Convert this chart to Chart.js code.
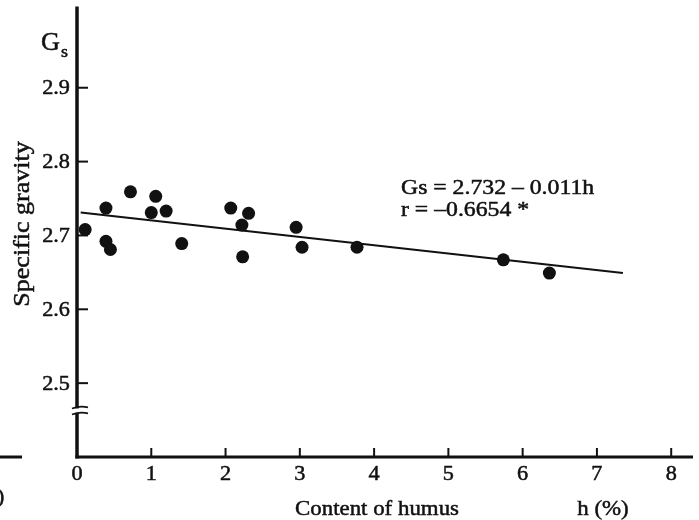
<!DOCTYPE html>
<html>
<head>
<meta charset="utf-8">
<script src="https://cdn.jsdelivr.net/npm/chart.js@4/dist/chart.umd.min.js"></script>
<style>
    html, body { margin: 0; padding: 0; background: #fff; }
    canvas { display: block; }
</style>
</head>
<body>
<canvas id="gravityChart" width="699" height="520"></canvas>
<script>
// Measured samples: humus content h (%) vs specific gravity Gs
const humus = [0.11, 0.39, 0.39, 0.45, 0.72, 1.00, 1.06, 1.20, 1.41, 2.07, 2.22, 2.23, 2.31, 2.95, 3.03, 3.77, 5.74, 6.36];
const gravity = [2.708, 2.737, 2.692, 2.681, 2.759, 2.731, 2.753, 2.733, 2.689, 2.737, 2.714, 2.671, 2.730, 2.711, 2.684, 2.684, 2.667, 2.649];

// Regression line end points
const fitX = [0.05, 7.35];
const fitY = [2.731, 2.649];

// Tick labels
const xTicks = [0, 1, 2, 3, 4, 5, 6, 7, 8];
const yTicks = [2.5, 2.6, 2.7, 2.8, 2.9];

const INK = '#111';
const SERIF = '"Liberation Serif", "Times New Roman", serif';

// Print-like text: slightly heavier, optionally stretched sideways
function inkText(ctx, text, x, y, sx) {
    ctx.save();
    ctx.translate(x, y);
    ctx.scale(sx || 1, 1);
    ctx.lineWidth = 0.5;
    ctx.fillText(text, 0, 0);
    ctx.strokeText(text, 0, 0);
    ctx.restore();
}

// Draw the axes, ticks and captions in the old print style
const paperAxes = {
    id: 'paperAxes',
    afterDatasetsDraw(chart) {
        const ctx = chart.ctx;
        const area = chart.chartArea;
        const xs = chart.scales.x;
        const ys = chart.scales.y;
        ctx.save();
        ctx.strokeStyle = INK;
        ctx.fillStyle = INK;
        ctx.lineCap = 'butt';

        // y axis
        ctx.lineWidth = 3.5;
        ctx.beginPath();
        ctx.moveTo(area.left, area.bottom + 1.5);
        ctx.lineTo(area.left, area.top);
        ctx.stroke();

        // x axis
        ctx.lineWidth = 3;
        ctx.beginPath();
        ctx.moveTo(area.left - 1.5, area.bottom);
        ctx.lineTo(area.right + 1, area.bottom);
        ctx.stroke();

        // stub of the neighbouring figure on the left
        ctx.beginPath();
        ctx.moveTo(0, area.bottom);
        ctx.lineTo(22, area.bottom);
        ctx.stroke();

        // y ticks and labels
        ctx.font = '21px ' + SERIF;
        ctx.textAlign = 'right';
        ctx.textBaseline = 'middle';
        yTicks.forEach(v => {
            const py = ys.getPixelForValue(v);
            ctx.lineWidth = 2;
            ctx.beginPath();
            ctx.moveTo(area.left, py);
            ctx.lineTo(area.left + 11, py);
            ctx.stroke();
            inkText(ctx, v.toFixed(1), area.left - 7, py + 1, 1.06);
        });

        // x ticks and labels
        ctx.textAlign = 'center';
        xTicks.forEach(v => {
            const px = xs.getPixelForValue(v);
            if (v > 0) {
                ctx.lineWidth = 2;
                ctx.beginPath();
                ctx.moveTo(px, area.bottom);
                ctx.lineTo(px, area.bottom - 9);
                ctx.stroke();
            }
            inkText(ctx, String(v), px, area.bottom + 17, 1.06);
        });

        // axis break on the y axis
        const by = ys.getPixelForValue(2.463);
        ctx.fillStyle = '#fff';
        ctx.fillRect(area.left - 4, by - 2, 8, 5);
        ctx.fillStyle = INK;
        ctx.lineWidth = 1.8;
        [by - 3, by + 3].forEach(y0 => {
            ctx.beginPath();
            ctx.moveTo(area.left - 5, y0 + 1);
            ctx.quadraticCurveTo(area.left + 3, y0 - 2, area.left + 11, y0);
            ctx.stroke();
        });

        // y axis captions
        ctx.textAlign = 'left';
        ctx.textBaseline = 'alphabetic';
        ctx.font = '25px ' + SERIF;
        inkText(ctx, 'G', 41, 50, 1.05);
        ctx.font = '17px ' + SERIF;
        inkText(ctx, 's', 61, 57, 1.05);

        ctx.save();
        ctx.translate(29, 224);
        ctx.rotate(-Math.PI / 2);
        ctx.textAlign = 'center';
        ctx.font = '23px ' + SERIF;
        inkText(ctx, 'Specific gravity', 0, 0, 1.13);
        ctx.restore();

        // x axis captions
        ctx.textAlign = 'center';
        ctx.textBaseline = 'middle';
        ctx.font = '22px ' + SERIF;
        inkText(ctx, 'Content of humus', 377, 509, 1.04);
        inkText(ctx, 'h (%)', 603, 509, 1.04);
        ctx.textAlign = 'left';
        inkText(ctx, ')', -3, 497);

        // regression annotation
        ctx.font = '21px ' + SERIF;
        inkText(ctx, 'Gs = 2.732 \u2013 0.011h', 401, 188, 1.13);
        inkText(ctx, 'r = \u20130.6654 *', 401, 210, 1.13);

        ctx.restore();
    }
};

new Chart(document.getElementById('gravityChart').getContext('2d'), {
    type: 'scatter',
    data: {
        datasets: [
            {
                label: 'samples',
                data: humus.map((h, i) => ({ x: h, y: gravity[i] })),
                backgroundColor: INK,
                borderColor: INK,
                pointRadius: 6.5,
                pointBorderWidth: 0
            },
            {
                label: 'fit',
                data: fitX.map((h, i) => ({ x: h, y: fitY[i] })),
                showLine: true,
                borderColor: INK,
                borderWidth: 2,
                pointRadius: 0
            }
        ]
    },
    options: {
        responsive: false,
        animation: false,
        layout: { padding: { left: 77, right: 7, top: 5, bottom: 63 } },
        scales: {
            x: { type: 'linear', min: 0, max: 8.28, display: false },
            y: { type: 'linear', min: 2.4, max: 3.01, display: false }
        },
        plugins: {
            legend: { display: false },
            tooltip: { enabled: false }
        }
    },
    plugins: [paperAxes]
});
</script>
</body>
</html>
